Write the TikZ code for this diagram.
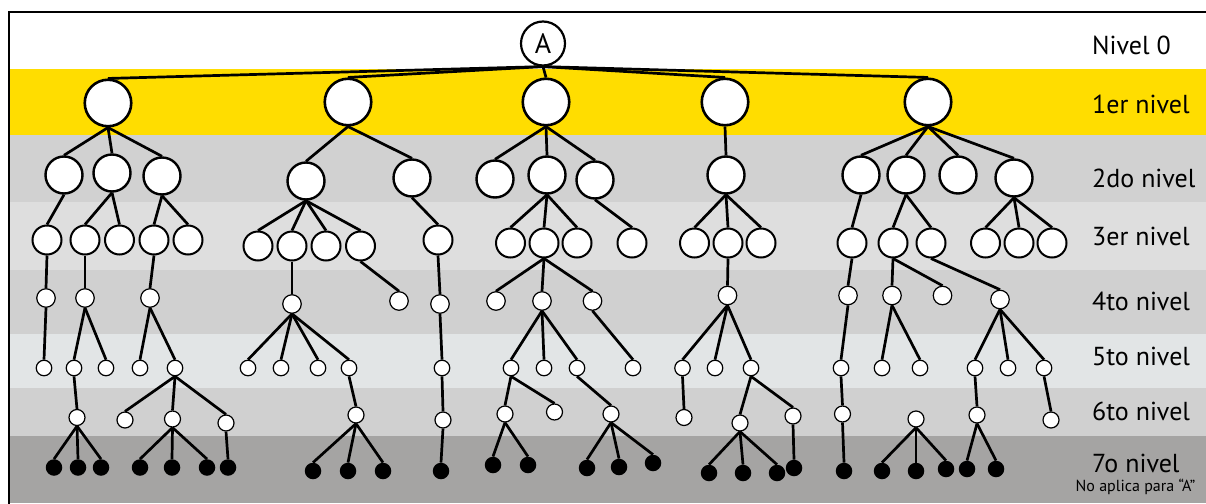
\documentclass[tikz,border=0pt]{standalone}
\usepackage{fontspec}
\setmainfont{PT Sans}
\definecolor{cyel}{RGB}{255,221,0}
\definecolor{cb2}{RGB}{209,209,209}
\definecolor{cb3}{RGB}{222,222,222}
\definecolor{cb4}{RGB}{208,208,208}
\definecolor{cb5}{RGB}{226,229,230}
\definecolor{cb6}{RGB}{208,208,208}
\definecolor{cb7}{RGB}{165,164,163}
\begin{document}
\begin{tikzpicture}[x=1pt,y=-1pt,
  every node/.style={inner sep=0pt},
  circ/.style={circle,draw=black,fill=white},
  lv0/.style={circ,minimum size=44pt,line width=2.2pt},
  lv1/.style={circ,minimum size=46.5pt,line width=2.6pt},
  lv2/.style={circ,minimum size=37pt,line width=2.4pt},
  lv3/.style={circ,minimum size=29pt,line width=2pt},
  lv4/.style={circ,minimum size=18.5pt,line width=1.2pt},
  lv5/.style={circ,minimum size=15.5pt,line width=1.2pt},
  lv6/.style={circ,minimum size=16pt,line width=1.2pt},
  lv7/.style={circle,fill=black,minimum size=16.5pt},
  conn/.style={line width=2.7pt},
  lbl/.style={anchor=base west,font=\fontsize{26}{30}\selectfont},
]
\useasboundingbox (0,0) rectangle (1206,503);
% bands
\fill[cyel] (10,69) rectangle (1206,135);
\fill[cb2] (10,135) rectangle (1206,202);
\fill[cb3] (10,202) rectangle (1206,270);
\fill[cb4] (10,270) rectangle (1206,334);
\fill[cb5] (10,334) rectangle (1206,388);
\fill[cb6] (10,388) rectangle (1206,436);
\fill[cb7] (10,436) rectangle (1206,503);
% frame
\draw[line width=2.5pt] (8.8,510) -- (8.8,12.2) -- (1215,12.2);
% level 0 and 1
\node[lv0,font=\fontsize{28}{30}\selectfont] (A) at (543,43.5) {A};
\node[lv1] (a) at (108,103) {};
\node[lv1] (b) at (348,102) {};
\node[lv1] (c) at (546,102) {};
\node[lv1] (d) at (725,102) {};
\node[lv1] (e) at (928,102) {};
% level 2
\node[lv2] (a1) at (64,175) {};
\node[lv2] (a2) at (112,173) {};
\node[lv2] (a3) at (162,176) {};
\node[lv2] (b1) at (306,181) {};
\node[lv2] (b2) at (412,178) {};
\node[lv2] (c1) at (495,179) {};
\node[lv2] (c2) at (547,175) {};
\node[lv2] (c3) at (595,180) {};
\node[lv2] (d1) at (726,175) {};
\node[lv2] (e1) at (861,175) {};
\node[lv2] (e2) at (906,175) {};
\node[lv2] (e3) at (958,175) {};
\node[lv2] (e4) at (1014,178) {};
% level 3
\node[lv3] (a11) at (47,240) {};
\node[lv3] (a21) at (85,240) {};
\node[lv3] (a22) at (119.5,240) {};
\node[lv3] (a31) at (154,240) {};
\node[lv3] (a32) at (188,240) {};
\node[lv3] (b11) at (258,246) {};
\node[lv3] (b12) at (292,246) {};
\node[lv3] (b13) at (326,246) {};
\node[lv3] (b14) at (360.5,246) {};
\node[lv3] (b21) at (438,240) {};
\node[lv3] (c21) at (510.5,243) {};
\node[lv3] (c22) at (544,243) {};
\node[lv3] (c23) at (577,243) {};
\node[lv3] (c31) at (632,243) {};
\node[lv3] (d11) at (694.5,243) {};
\node[lv3] (d12) at (728,243) {};
\node[lv3] (d13) at (761,243) {};
\node[lv3] (e11) at (852,243) {};
\node[lv3] (e21) at (893,243) {};
\node[lv3] (e22) at (931,243) {};
\node[lv3] (e41) at (985.5,243) {};
\node[lv3] (e42) at (1019,243) {};
\node[lv3] (e43) at (1052,243) {};
% level 4
\node[lv4] (a111) at (46,298) {};
\node[lv4] (a211) at (85,298) {};
\node[lv4] (a311) at (150,298) {};
\node[lv4] (b121) at (292,304) {};
\node[lv4] (b141) at (399,301) {};
\node[lv4] (b211) at (440,304) {};
\node[lv4] (c221) at (496,301) {};
\node[lv4] (c222) at (542,301) {};
\node[lv4] (c223) at (592.5,301) {};
\node[lv4] (d121) at (727.5,295.5) {};
\node[lv4] (e111) at (848,295.5) {};
\node[lv4] (e211) at (892,295.5) {};
\node[lv4] (e212) at (942.5,295.5) {};
\node[lv4] (e221) at (1000,299.5) {};
% level 5
\foreach \n/\x in {p1/44,p2/74,p3/106,p4/140,p5/175,p6/248,p7/281,p8/318,p9/349,p10/442,
  p11/511,p12/544,p13/577,p14/633,p15/682.5,p16/715,p17/751,p18/841,p19/882,p20/920,
  p21/975,p22/1008,p23/1044}
  \node[lv5] (\n) at (\x,368) {};
% level 6
\node[lv6] (q1) at (77,417.5) {};
\node[lv6] (q2) at (125,420) {};
\node[lv6] (q3) at (172.5,419) {};
\node[lv6] (q4) at (226,423) {};
\node[lv6] (q5) at (356,415) {};
\node[lv6] (q6) at (443,420) {};
\node[lv6] (q7) at (505,414) {};
\node[lv6] (q8) at (554.5,412) {};
\node[lv6] (q9) at (611,414) {};
\node[lv6] (q10) at (684,417.5) {};
\node[lv6] (q11) at (740,423) {};
\node[lv6] (q12) at (793,416) {};
\node[lv6] (q13) at (842.5,414) {};
\node[lv6] (q14) at (916,419) {};
\node[lv6] (q15) at (977,415) {};
\node[lv6] (q16) at (1051,420) {};
% level 7
\node[lv7] (r1) at (54,467.5) {};
\node[lv7] (r2) at (78,467.5) {};
\node[lv7] (r3) at (101,467.5) {};
\node[lv7] (r4) at (140,467.5) {};
\node[lv7] (r5) at (172,467.5) {};
\node[lv7] (r6) at (207,467.5) {};
\node[lv7] (r7) at (228,467.5) {};
\node[lv7] (r8) at (313,471) {};
\node[lv7] (r9) at (348,471) {};
\node[lv7] (r10) at (383,471) {};
\node[lv7] (r11) at (441,471) {};
\node[lv7] (r12) at (493,465) {};
\node[lv7] (r13) at (528,465) {};
\node[lv7] (r14) at (587,468) {};
\node[lv7] (r15) at (619,467) {};
\node[lv7] (r16) at (653,463) {};
\node[lv7] (r17) at (709,473) {};
\node[lv7] (r18) at (743,473) {};
\node[lv7] (r19) at (777,473) {};
\node[lv7] (r20) at (794,468) {};
\node[lv7] (r21) at (844,471) {};
\node[lv7] (r22) at (882,471) {};
\node[lv7] (r23) at (916,471) {};
\node[lv7] (r24) at (946,469) {};
\node[lv7] (r25) at (967,469) {};
\node[lv7] (r26) at (996,469) {};
% connectors
\foreach \p/\c in {A/a,A/b,A/c,A/d,A/e,
  a/a1,a/a2,a/a3,b/b1,b/b2,c/c1,c/c2,c/c3,d/d1,e/e1,e/e2,e/e3,e/e4,
  a1/a11,a2/a21,a2/a22,a3/a31,a3/a32,b1/b11,b1/b12,b1/b13,b1/b14,b2/b21,
  c2/c21,c2/c22,c2/c23,c3/c31,d1/d11,d1/d12,d1/d13,e1/e11,e2/e21,e2/e22,
  e4/e41,e4/e42,e4/e43,
  a11/a111,a21/a211,a31/a311,b12/b121,b14/b141,b21/b211,c22/c221,c22/c222,
  c22/c223,d12/d121,e11/e111,e21/e211,e21/e212,e22/e221,
  a111/p1,a211/p2,a211/p3,a311/p4,a311/p5,b121/p6,b121/p7,b121/p8,b121/p9,
  b211/p10,c222/p11,c222/p12,c222/p13,c223/p14,d121/p15,d121/p16,d121/p17,
  e111/p18,e211/p19,e211/p20,e221/p21,e221/p22,e221/p23,
  p2/q1,p5/q2,p5/q3,p5/q4,p9/q5,p10/q6,p11/q7,p11/q8,p13/q9,p15/q10,p17/q11,
  p17/q12,p18/q13,p21/q15,p23/q16,
  q1/r1,q1/r2,q1/r3,q3/r4,q3/r5,q3/r6,q4/r7,q5/r8,q5/r9,q5/r10,q6/r11,
  q7/r12,q7/r13,q9/r14,q9/r15,q9/r16,q11/r17,q11/r18,q11/r19,q12/r20,
  q13/r21,q14/r22,q14/r23,q14/r24,q15/r25,q15/r26}
  \draw[conn] (\p.south) -- (\c.north);
% labels
\node[lbl] (l0) at (1092,55) {Nivel 0};
\node[lbl] (l1) at (1092,113) {1er nivel};
\node[lbl] (l2) at (1092,187) {2do nivel};
\node[lbl] (l3) at (1092,245) {3er nivel};
\node[lbl] (l4) at (1092,310) {4to nivel};
\node[lbl] (l5) at (1092,365) {5to nivel};
\node[lbl] (l6) at (1092,420) {6to nivel};
\node[lbl] (l7) at (1092,472) {7o nivel};
\node[font=\fontsize{16}{18}\selectfont,anchor=base] (na) at (1135.5,491) {No aplica para “A”};
\end{tikzpicture}
\end{document}
